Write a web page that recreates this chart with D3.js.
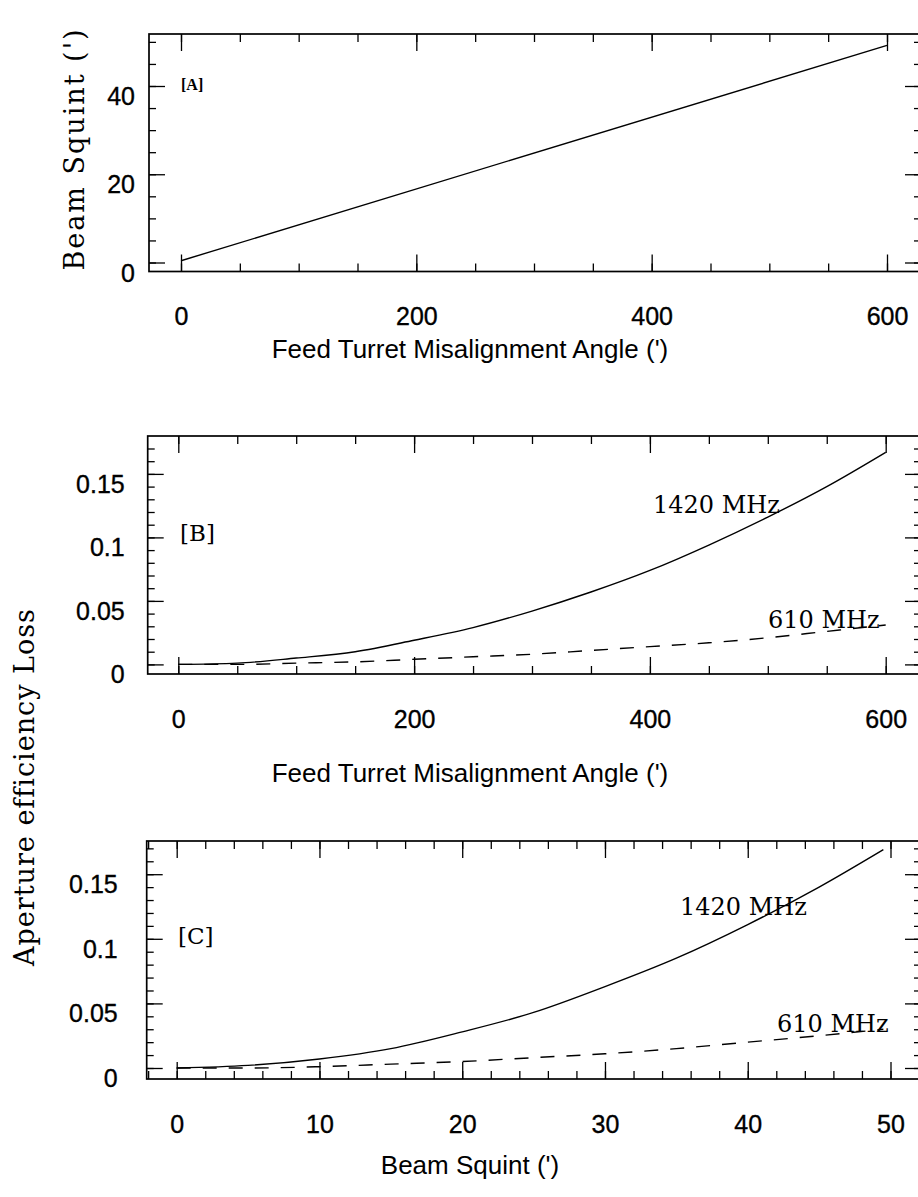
<!DOCTYPE html>
<html><head><meta charset="utf-8">
<script src="https://cdn.jsdelivr.net/npm/d3@7"></script>
<style>
body{margin:0;background:#fff}
svg{display:block;background:#fff}
</style>
</head><body><svg id="chart" width="918" height="1197"></svg>
<script>
// ---------- data ----------
const misalignA = [0, 600];
const squintA = [0.4, 49.2];

const misalignB = [0, 50, 100, 150, 200, 250, 300, 350, 400, 450, 500, 550, 600];
const loss1420B = [0.000, 0.001, 0.005, 0.010, 0.019, 0.029, 0.042, 0.057, 0.074, 0.094, 0.116, 0.140, 0.167];
const loss610B  = [0.000, 0.000, 0.001, 0.002, 0.004, 0.006, 0.008, 0.011, 0.014, 0.017, 0.021, 0.026, 0.031];

const squintC = [0, 5, 10, 15, 20, 25, 30, 35, 40, 45, 49.5];
const loss1420C = [0.000, 0.002, 0.007, 0.015, 0.028, 0.043, 0.063, 0.085, 0.111, 0.140, 0.169];
const loss610C  = [0.000, 0.000, 0.001, 0.003, 0.005, 0.008, 0.011, 0.015, 0.020, 0.025, 0.030];

const xTicksAB = [0, 200, 400, 600];
const xTickLabelsAB = ["0", "200", "400", "600"];
const xMinorAB = [0, 50, 100, 150, 200, 250, 300, 350, 400, 450, 500, 550, 600];
const yTicksA = [0, 20, 40];
const yTickLabelsA = ["0", "20", "40"];
const yMinorA = [0, 5, 10, 15, 20, 25, 30, 35, 40, 45, 50];
const yTicksBC = [0, 0.05, 0.1, 0.15];
const yTickLabelsBC = ["0", "0.05", "0.1", "0.15"];
const yMinorBC = [0, 0.01, 0.02, 0.03, 0.04, 0.05, 0.06, 0.07, 0.08, 0.09, 0.10, 0.11, 0.12, 0.13, 0.14, 0.15, 0.16, 0.17];
const xTicksC = [0, 10, 20, 30, 40, 50];
const xTickLabelsC = ["0", "10", "20", "30", "40", "50"];
const xMinorC = [-2, 0, 2, 4, 6, 8, 10, 12, 14, 16, 18, 20, 22, 24, 26, 28, 30, 32, 34, 36, 38, 40, 42, 44, 46, 48, 50, 52];

const xTitleAB = "Feed Turret Misalignment Angle (')";
const xTitleC = "Beam Squint (')";
const yTitleA = "Beam Squint (')";
const yTitleBC = "Aperture efficiency Loss";
const panelTags = ["[A]", "[B]", "[C]"];
const seriesNames = ["1420 MHz", "610 MHz"];

// ---------- drawing ----------
const svg = d3.select("#chart");
const SANS = "'Liberation Sans', Arial, Helvetica, sans-serif";
const SERIF = "'DejaVu Serif', 'Liberation Serif', serif";

function styleSans(sel, size, heavy) {
  sel.attr("font-family", SANS).attr("font-size", size).attr("fill", "#000");
  if (heavy) sel.attr("stroke", "#000").attr("stroke-width", 0.35);
}

function drawPanel(cfg) {
  const g = svg.append("g");
  const x = d3.scaleLinear().domain(cfg.xd).range(cfg.xr);
  const y = d3.scaleLinear().domain(cfg.yd).range(cfg.yr);
  const [fx0, fx1] = cfg.fx, [fy0, fy1] = cfg.fy;

  function axisGroup(axis, tx, ty) {
    const a = g.append("g").attr("transform", `translate(${tx},${ty})`).call(axis);
    a.select(".domain").remove();
    a.selectAll(".tick line").attr("stroke", "#000").attr("stroke-width", 1.3);
    return a;
  }
  // minor ticks, all four sides
  axisGroup(d3.axisBottom(x).tickValues(cfg.xMinor).tickSizeInner(-8).tickSizeOuter(0).tickFormat(""), 0, fy1);
  axisGroup(d3.axisTop(x).tickValues(cfg.xMinor).tickSizeInner(-8).tickSizeOuter(0).tickFormat(""), 0, fy0);
  axisGroup(d3.axisLeft(y).tickValues(cfg.yMinor).tickSizeInner(-7).tickSizeOuter(0).tickFormat(""), fx0, 0);
  axisGroup(d3.axisRight(y).tickValues(cfg.yMinor).tickSizeInner(-7).tickSizeOuter(0).tickFormat(""), fx1, 0);
  // major ticks with labels on bottom / left
  const bx = axisGroup(d3.axisBottom(x).tickValues(cfg.xMajor).tickSizeInner(-17).tickSizeOuter(0)
      .tickPadding(36).tickFormat((d, i) => cfg.xLabels[i]), 0, fy1);
  styleSans(bx.selectAll("text"), 25, true);
  axisGroup(d3.axisTop(x).tickValues(cfg.xMajor).tickSizeInner(-17).tickSizeOuter(0).tickFormat(""), 0, fy0);
  const ly = axisGroup(d3.axisLeft(y).tickValues(cfg.yMajor).tickSizeInner(-16).tickSizeOuter(0)
      .tickPadding(cfg.leftPad).tickFormat((d, i) => cfg.yLabels[i]), fx0, 0);
  styleSans(ly.selectAll("text"), 25, true);
  ly.selectAll("text").attr("y", 10.5);
  axisGroup(d3.axisRight(y).tickValues(cfg.yMajor).tickSizeInner(-16).tickSizeOuter(0).tickFormat(""), fx1, 0);

  // frame
  g.append("rect").attr("x", fx0).attr("y", fy0).attr("width", fx1 - fx0).attr("height", fy1 - fy0)
    .attr("fill", "none").attr("stroke", "#000").attr("stroke-width", 1.7);

  // series
  const line = d3.line().x(d => x(d[0])).y(d => y(d[1])).curve(d3.curveMonotoneX);
  cfg.series.forEach(s => {
    g.append("path").datum(s.xs.map((v, i) => [v, s.ys[i]]))
      .attr("d", line).attr("fill", "none").attr("stroke", "#000")
      .attr("stroke-width", 1.4).attr("stroke-dasharray", s.dash || null);
  });

  // panel tag
  g.append("text").attr("x", cfg.tag.x).attr("y", cfg.tag.y).text(cfg.tag.text)
    .attr("font-family", cfg.tag.font).attr("font-size", cfg.tag.size)
    .attr("font-weight", cfg.tag.weight || "normal").attr("fill", "#000");

  // series labels
  (cfg.labels || []).forEach(l => {
    g.append("text").attr("x", l.x).attr("y", l.y).text(l.text)
      .attr("font-family", SERIF).attr("font-size", 24).attr("fill", "#000");
  });

  // x title
  const t = g.append("text").attr("x", cfg.xTitle.x).attr("y", cfg.xTitle.y).text(cfg.xTitle.text)
    .attr("text-anchor", "middle");
  styleSans(t, 26, false);
}

drawPanel({
  xd: [0, 600], xr: [181, 887], yd: [0, 40], yr: [262.5, 86],
  fx: [149, 921], fy: [34, 271.5],
  xMinor: xMinorAB, xMajor: xTicksAB, xLabels: xTickLabelsAB,
  yMinor: yMinorA, yMajor: yTicksA, yLabels: yTickLabelsA, leftPad: 14,
  series: [{ xs: misalignA, ys: squintA }],
  tag: { text: panelTags[0], x: 181, y: 90, font: "'Liberation Serif', serif", size: 16, weight: "bold" },
  xTitle: { text: xTitleAB, x: 470, y: 358 }
});

drawPanel({
  xd: [0, 600], xr: [178.3, 885.7], yd: [0, 0.1], yr: [664.4, 537.4],
  fx: [147.7, 921], fy: [436, 674],
  xMinor: xMinorAB, xMajor: xTicksAB, xLabels: xTickLabelsAB,
  yMinor: yMinorBC, yMajor: yTicksBC, yLabels: yTickLabelsBC, leftPad: 23,
  series: [{ xs: misalignB, ys: loss1420B }, { xs: misalignB, ys: loss610B, dash: "14,12" }],
  tag: { text: panelTags[1], x: 180, y: 541, font: SERIF, size: 23 },
  labels: [{ text: seriesNames[0], x: 653, y: 513 }, { text: seriesNames[1], x: 768, y: 628 }],
  xTitle: { text: xTitleAB, x: 470, y: 782 }
});

drawPanel({
  xd: [0, 50], xr: [176.7, 890.5], yd: [0, 0.05], yr: [1068, 1003.4],
  fx: [146.7, 921], fy: [841, 1079],
  xMinor: xMinorC, xMajor: xTicksC, xLabels: xTickLabelsC,
  yMinor: yMinorBC, yMajor: yTicksBC, yLabels: yTickLabelsBC, leftPad: 29,
  series: [{ xs: squintC, ys: loss1420C }, { xs: squintC, ys: loss610C, dash: "14,12" }],
  tag: { text: panelTags[2], x: 178, y: 944, font: SERIF, size: 23 },
  labels: [{ text: seriesNames[0], x: 680, y: 915 }, { text: seriesNames[1], x: 777, y: 1032 }],
  xTitle: { text: xTitleC, x: 470, y: 1174 }
});

// y titles (rotated)
svg.append("text").attr("transform", "translate(84,149) rotate(-90)").text(yTitleA)
  .attr("text-anchor", "middle").attr("font-family", SERIF).attr("font-size", 27)
  .attr("letter-spacing", 2).attr("fill", "#000");
svg.append("text").attr("transform", "translate(34,787) rotate(-90)").text(yTitleBC)
  .attr("text-anchor", "middle").attr("font-family", SERIF).attr("font-size", 27)
  .attr("letter-spacing", 1).attr("fill", "#000");
</script>
</body></html>
